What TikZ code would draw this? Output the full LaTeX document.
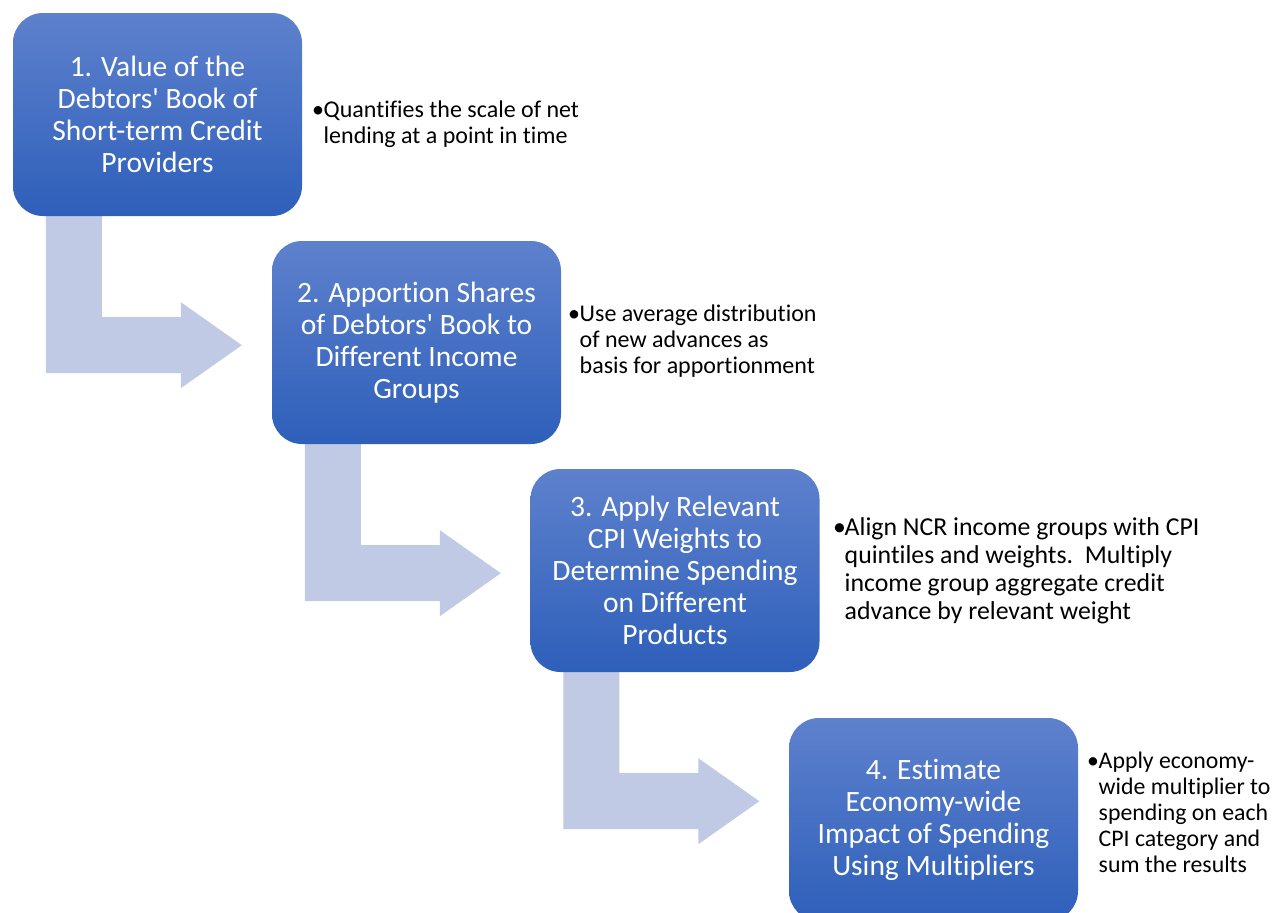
\documentclass[tikz,border=0pt]{standalone}
\usepackage{fontspec}
\setmainfont{Carlito}[Ligatures=NoCommon]
\usetikzlibrary{calc,backgrounds}
\definecolor{boxtop}{RGB}{94,129,205}
\definecolor{boxbot}{RGB}{46,95,186}
\definecolor{arrowfill}{RGB}{192,202,228}
\tikzset{
  stepbox/.style={rounded corners=30pt, top color=boxtop, bottom color=boxbot,
    minimum width=289pt, minimum height=203pt, inner sep=0pt, text=white,
    align=center, font=\fontsize{29.5}{32}\selectfont},
  bul/.style={inner sep=0pt, anchor=base west, text=black},
  bentarrow/.style={fill=arrowfill}
}
\newcommand{\bullitem}{\makebox[11.5pt][l]{•}}
\newcommand{\ap}{\textquotesingle}
\newcommand{\drawbent}[1]{%
  \fill[bentarrow] ($(#1.south west)+(33,-5)$) -- ($(#1.south west)+(89,-5)$)
    -- ($(#1.south west)+(89,101)$) -- ($(#1.south west)+(168,101)$)
    -- ($(#1.south west)+(168,86)$) -- ($(#1.south west)+(229,129)$)
    -- ($(#1.south west)+(168,172)$) -- ($(#1.south west)+(168,157)$)
    -- ($(#1.south west)+(33,157)$) -- cycle;}
\begin{document}
\begin{tikzpicture}[x=1pt,y=-1pt]
\useasboundingbox (0,0) rectangle (1275,913);
% boxes
\node[stepbox] (b1) at (157.5,114.5) {1. Value of the\\Debtors\ap{} Book of\\Short-term Credit\\Providers};
\node[stepbox] (b2) at (416.5,342.5) {2. Apportion Shares\\of Debtors\ap{} Book to\\Different Income\\Groups};
\node[stepbox] (b3) at (675,570.5) {3. Apply Relevant\\CPI Weights to\\Determine Spending\\on Different\\Products};
\node[stepbox] (b4) at (933.5,819.5) {4. Estimate\\Economy-wide\\Impact of Spending\\Using Multipliers};
% arrows
\begin{pgfonlayer}{background}
\fill[white] (0,0) rectangle (1275,913);
\drawbent{b1}
\drawbent{b2}
\drawbent{b3}
\end{pgfonlayer}
% bullet texts
\node[bul, font=\fontsize{24}{26}\selectfont] (t1) at (312,117)
  {\begin{tabular}[t]{@{}l@{}l@{}}\bullitem&Quantifies the scale of net\\&lending at a point in time\end{tabular}};
\node[bul, font=\fontsize{24}{26}\selectfont] (t2) at (568,321)
  {\begin{tabular}[t]{@{}l@{}l@{}}\bullitem&Use average distribution\\&of new advances as\\&basis for apportionment\end{tabular}};
\node[bul, font=\fontsize{25.8}{28}\selectfont] (t3) at (833,535)
  {\begin{tabular}[t]{@{}l@{}l@{}}\bullitem&Align NCR income groups with CPI\\&quintiles and weights.\ \ Multiply\\&income group aggregate credit\\&advance by relevant weight\end{tabular}};
\node[bul, font=\fontsize{23.8}{26}\selectfont] (t4) at (1087,768)
  {\begin{tabular}[t]{@{}l@{}l@{}}\bullitem&Apply economy-\\&wide multiplier to\\&spending on each\\&CPI category and\\&sum the results\end{tabular}};
\end{tikzpicture}
\end{document}
